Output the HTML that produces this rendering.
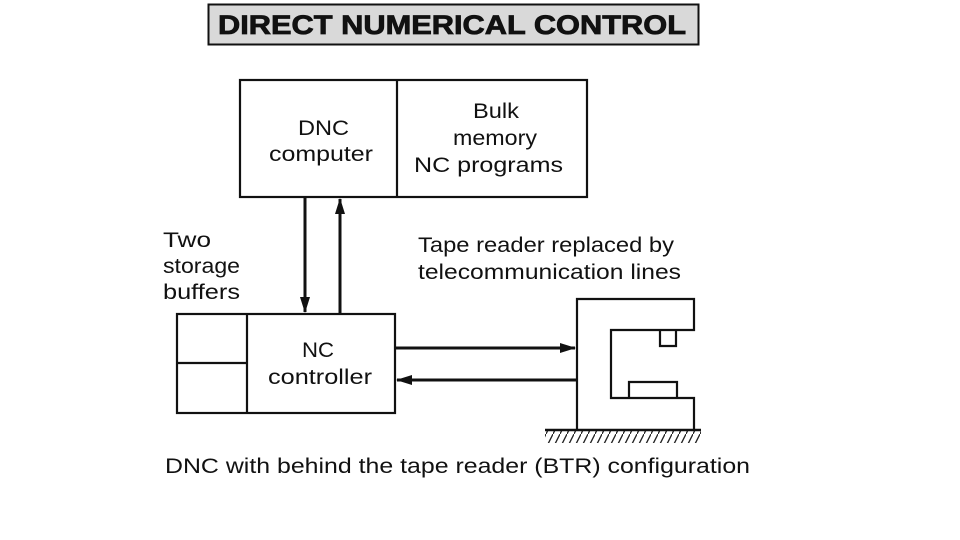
<!DOCTYPE html>
<html><head><meta charset="utf-8"><style>
html,body{margin:0;padding:0;background:#fff;}
svg{display:block}
text{font-family:"Liberation Sans",sans-serif;fill:#111;}
</style></head><body>
<svg width="960" height="540" viewBox="0 0 960 540">
<defs>
<marker id="ah" markerWidth="16" markerHeight="10" refX="15" refY="5" orient="auto" markerUnits="userSpaceOnUse"><path d="M0,0 L16,5 L0,10 Z" fill="#111"/></marker>
<pattern id="hatch" width="7" height="14" patternUnits="userSpaceOnUse"><path d="M7,0 L0,14" stroke="#222" stroke-width="1.3"/></pattern>
</defs>
<rect x="208.5" y="4.5" width="490" height="40" fill="#d9d9d9" stroke="#111" stroke-width="2"/>
<text x="218" y="34" font-size="27" font-weight="bold" textLength="468" lengthAdjust="spacingAndGlyphs" stroke="#111" stroke-width="0.8">DIRECT NUMERICAL CONTROL</text>
<g stroke="#111" stroke-width="2.2" fill="none">
<rect x="240" y="80" width="347" height="117"/>
<line x1="397" y1="80" x2="397" y2="197"/>
<rect x="177" y="314" width="218" height="99"/>
<line x1="247" y1="314" x2="247" y2="413"/>
<line x1="177" y1="363" x2="247" y2="363"/>
<path d="M577,429 V299 H694 V330 H611 V398 H694 V429"/>
<path d="M660,330 V346 H676 V330"/>
<path d="M629,398 V382 H677 V398"/>
</g>
<g stroke="#111" stroke-width="3" fill="none">
<line x1="305" y1="197" x2="305" y2="312" marker-end="url(#ah)"/>
<line x1="340" y1="313" x2="340" y2="199" marker-end="url(#ah)"/>
<line x1="395" y1="348" x2="575" y2="348" marker-end="url(#ah)"/>
<line x1="577" y1="380" x2="397" y2="380" marker-end="url(#ah)"/>
</g>
<rect x="545" y="430" width="156" height="13" fill="url(#hatch)"/>
<line x1="545" y1="430" x2="701" y2="430" stroke="#111" stroke-width="2.5"/>
<g font-size="21" lengthAdjust="spacingAndGlyphs">
<text x="298" y="135" textLength="51" lengthAdjust="spacingAndGlyphs">DNC</text>
<text x="269" y="161" textLength="104" lengthAdjust="spacingAndGlyphs">computer</text>
<text x="473" y="118" textLength="46" lengthAdjust="spacingAndGlyphs">Bulk</text>
<text x="453" y="145" textLength="84" lengthAdjust="spacingAndGlyphs">memory</text>
<text x="414" y="172" textLength="149" lengthAdjust="spacingAndGlyphs">NC programs</text>
<text x="302" y="357" textLength="32" lengthAdjust="spacingAndGlyphs">NC</text>
<text x="268" y="384" textLength="104" lengthAdjust="spacingAndGlyphs">controller</text>
<text x="163" y="247" textLength="48" lengthAdjust="spacingAndGlyphs">Two</text>
<text x="163" y="273" textLength="77" lengthAdjust="spacingAndGlyphs">storage</text>
<text x="163" y="299" textLength="77" lengthAdjust="spacingAndGlyphs">buffers</text>
<text x="418" y="252" textLength="256" lengthAdjust="spacingAndGlyphs">Tape reader replaced by</text>
<text x="418" y="279" textLength="263" lengthAdjust="spacingAndGlyphs">telecommunication lines</text>
<text x="165" y="473" textLength="585" lengthAdjust="spacingAndGlyphs">DNC with behind the tape reader (BTR) configuration</text>
</g>
</svg>
</body></html>
